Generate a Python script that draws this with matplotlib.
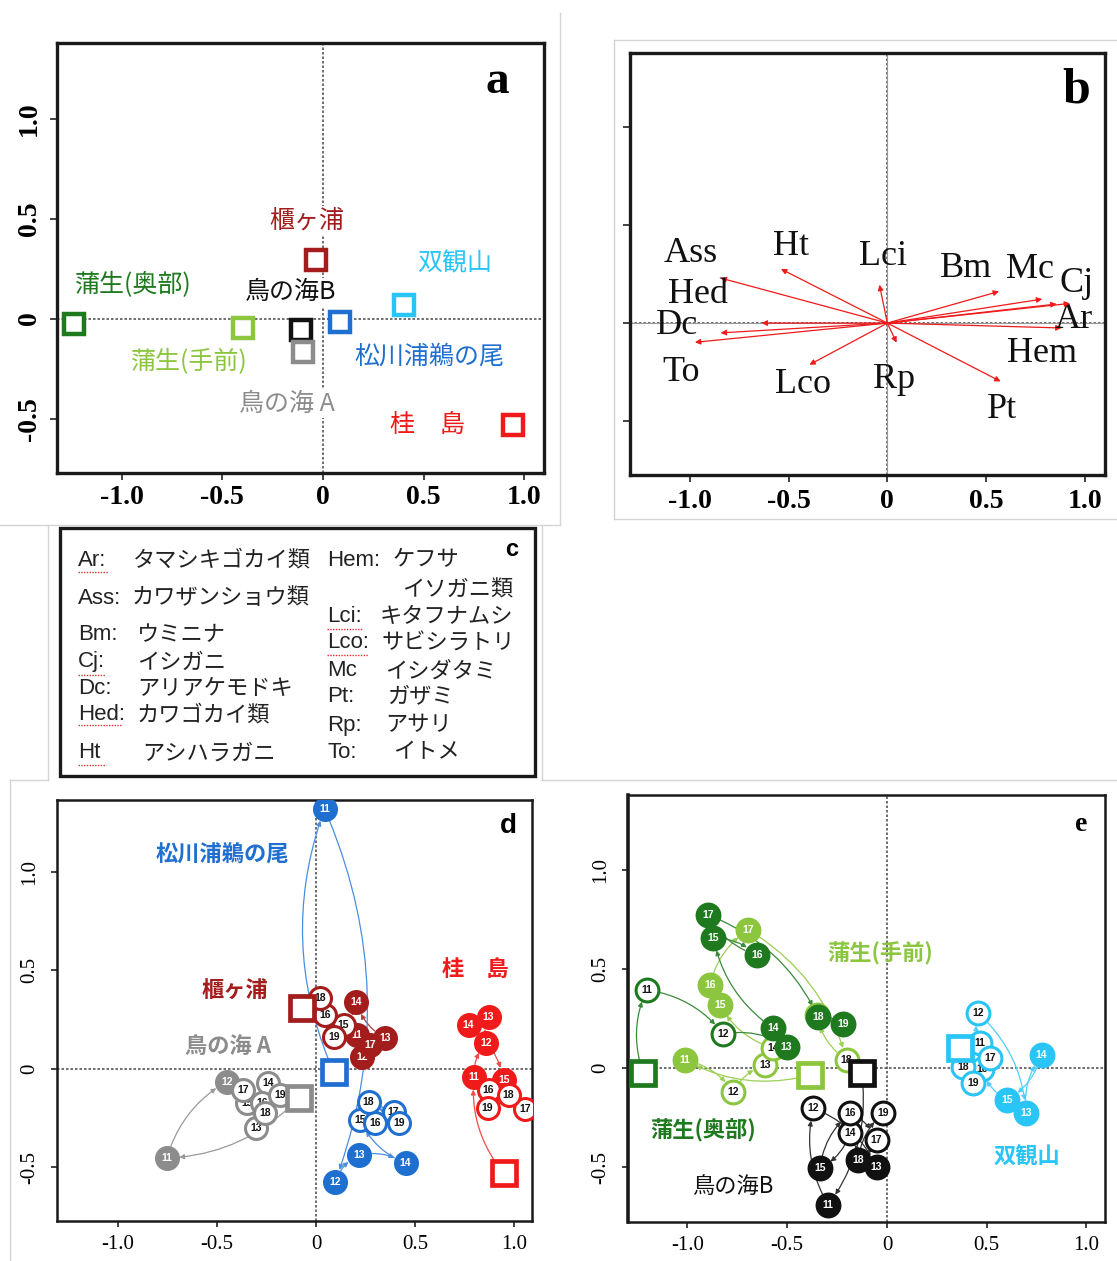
import matplotlib.pyplot as plt
from matplotlib.patches import Rectangle

# ---------------- data ----------------
# panel a: site scores
site_names = ['蒲生(奥部)', '蒲生(手前)', '鳥の海B', '鳥の海 A', '櫃ヶ浦', '松川浦鵜の尾', '双観山', '桂　島']
site_colors = ['#1f7a1f', '#8cc63f', '#111111', '#8c8c8c', '#a31d1d', '#1f6fd0', '#29c5f6', '#f01a1a']
site_x = [-1.236, -0.398, -0.107, -0.098, -0.036, 0.086, 0.402, 0.946]
site_y = [-0.028, -0.045, -0.055, -0.167, 0.292, -0.017, 0.067, -0.533]
site_lab_x = [-0.946, -0.670, -0.161, -0.179, -0.080, 0.527, 0.652, 0.518]
site_lab_y = [0.167, -0.217, 0.133, -0.425, 0.492, -0.192, 0.275, -0.533]

# panel b: species vectors
species = ['Ar', 'Ass', 'Bm', 'Cj', 'Dc', 'Hed', 'Hem', 'Ht', 'Lci', 'Lco', 'Mc', 'Pt', 'Rp', 'To']
sp_x = [0.883, -0.845, 0.566, 0.926, -0.637, -0.845, 0.858, -0.539, -0.040, -0.395, 0.785, 0.574, 0.047, -0.975]
sp_y = [-0.025, 0.229, 0.161, 0.100, 0.0, -0.050, 0.097, 0.275, 0.195, -0.212, 0.122, -0.297, -0.100, -0.098]
sp_lab_x = [0.943, -0.997, 0.400, 0.960, -1.064, -0.958, 0.782, -0.490, -0.020, -0.426, 0.723, 0.580, 0.034, -1.046]
sp_lab_y = [0.017, 0.356, 0.280, 0.200, -0.010, 0.146, -0.153, 0.390, 0.340, -0.314, 0.270, -0.440, -0.288, -0.254]

# panel c: species key
key_left_abbr = ['Ar:', 'Ass:', 'Bm:', 'Cj:', 'Dc:', 'Hed:', 'Ht']
key_left_name = ['タマシキゴカイ類', 'カワザンショウ類', 'ウミニナ', 'イシガニ', 'アリアケモドキ', 'カワゴカイ類', 'アシハラガニ']
key_right_abbr = ['Hem:', '', 'Lci:', 'Lco:', 'Mc', 'Pt:', 'Rp:', 'To:']
key_right_name = ['ケフサ', 'イソガニ類', 'キタフナムシ', 'サビシラトリ', 'イシダタミ', 'ガザミ', 'アサリ', 'イトメ']

# panels d, e: yearly trajectories (start square = before, circles = 2011..2019)
years = ['11', '12', '13', '14', '15', '16', '17', '18', '19']

matsu_start = (0.088, -0.014)
matsu_x = [0.042, 0.096, 0.215, 0.451, 0.222, 0.298, 0.391, 0.264, 0.416]
matsu_y = [1.320, -0.572, -0.437, -0.479, -0.259, -0.276, -0.217, -0.166, -0.276]
matsu_fill = [1, 1, 1, 1, 0, 0, 0, 0, 0]

hitsu_start = (-0.072, 0.308)
hitsu_x = [0.205, 0.231, 0.348, 0.202, 0.138, 0.045, 0.273, 0.020, 0.091]
hitsu_y = [0.173, 0.063, 0.156, 0.338, 0.223, 0.274, 0.122, 0.359, 0.164]
hitsu_fill = [1, 1, 1, 1, 0, 0, 1, 0, 0]

katsura_start = (0.946, -0.530)
katsura_x = [0.795, 0.859, 0.870, 0.769, 0.946, 0.870, 1.056, 0.971, 0.865]
katsura_y = [-0.042, 0.134, 0.261, 0.223, -0.056, -0.107, -0.205, -0.132, -0.200]
katsura_fill = [1, 1, 1, 1, 1, 0, 0, 0, 0]

toriA_start = (-0.089, -0.149)
toriA_x = [-0.754, -0.451, -0.303, -0.241, -0.350, -0.274, -0.367, -0.258, -0.182]
toriA_y = [-0.453, -0.064, -0.301, -0.073, -0.174, -0.174, -0.107, -0.225, -0.132]
toriA_fill = [1, 1, 0, 0, 0, 0, 0, 0, 0]

gamoOku_start = (-1.221, -0.025)
gamoOku_x = [-1.205, -0.820, -0.503, -0.570, -0.870, -0.653, -0.896, -0.344, -0.219]
gamoOku_y = [0.396, 0.173, 0.109, 0.202, 0.657, 0.572, 0.774, 0.258, 0.224]
gamoOku_fill = [0, 0, 1, 1, 1, 1, 1, 1, 1]

gamoMae_start = (-0.386, -0.034)
gamoMae_x = [-1.013, -0.770, -0.612, -0.570, -0.837, -0.887, -0.695, -0.202, -0.353]
gamoMae_y = [0.042, -0.118, 0.017, 0.101, 0.320, 0.421, 0.699, 0.042, 0.269]
gamoMae_fill = [1, 0, 0, 0, 1, 1, 1, 0, 1]

toriB_start = (-0.127, -0.025)
toriB_x = [-0.294, -0.369, -0.052, -0.185, -0.336, -0.185, -0.052, -0.144, -0.018]
toriB_y = [-0.690, -0.202, -0.497, -0.328, -0.505, -0.227, -0.362, -0.463, -0.227]
toriB_fill = [1, 0, 1, 0, 1, 0, 0, 1, 0]

soukan_start = (0.366, 0.101)
soukan_x = [0.466, 0.458, 0.697, 0.775, 0.603, 0.475, 0.516, 0.383, 0.433]
soukan_y = [0.126, 0.278, -0.224, 0.067, -0.160, -0.005, 0.050, 0.008, -0.076]
soukan_fill = [0, 0, 1, 1, 1, 0, 0, 0, 0]

tick_vals_x = [-1.0, -0.5, 0, 0.5, 1.0]
tick_text_x = ['-1.0', '-0.5', '0', '0.5', '1.0']
tick_vals_y = [-0.5, 0, 0.5, 1.0]
tick_text_y = ['-0.5', '0', '0.5', '1.0']

# ---------------- figure ----------------
W, H = 1117, 1261
fig = plt.figure(figsize=(W / 100, H / 100), dpi=100)
JP = ['Noto Sans CJK JP', 'DejaVu Sans']
SERIF = ['Liberation Serif', 'DejaVu Serif']
SANS = ['Liberation Sans', 'DejaVu Sans']


def add_ax(l, t, r, b):
    return fig.add_axes([l / W, 1 - b / H, (r - l) / W, (b - t) / H])


def style_axes(ax, lw, fs, weight, pad_x, pad_y, labels=True, tlen=5):
    for s in ax.spines.values():
        s.set_linewidth(lw)
        s.set_color('#1a1a1a')
    ax.set_xticks(tick_vals_x)
    ax.set_yticks(tick_vals_y)
    ax.set_xticklabels(tick_text_x, fontfamily=SERIF, fontsize=fs, fontweight=weight)
    if labels:
        ax.set_yticklabels(tick_text_y, fontfamily=SERIF, fontsize=fs, fontweight=weight,
                           rotation=90, va='center')
    else:
        ax.set_yticklabels([])
    ax.tick_params(axis='x', length=tlen, width=1.3, pad=pad_x, color='#333333')
    ax.tick_params(axis='y', length=tlen, width=1.3, pad=pad_y, color='#333333')
    ax.axhline(0, color='#555555', lw=1.2, ls=(0, (1.5, 1.2)), zorder=0)
    ax.axvline(0, color='#555555', lw=1.2, ls=(0, (1.5, 1.2)), zorder=0)


# overlay for image borders and panel c
bg = fig.add_axes([0, 0, 1, 1], zorder=-1)
bg.set_xlim(0, W)
bg.set_ylim(H, 0)
bg.axis('off')
border_segments = [((560, 560), (13, 525)), ((0, 560), (525, 525)),
                   ((614, 1117), (40, 40)), ((614, 614), (40, 519)), ((614, 1117), (519, 519)),
                   ((48, 48), (525, 780)), ((542, 542), (525, 780)),
                   ((10, 48), (780, 780)), ((542, 1117), (780, 780)), ((10, 10), (780, 1261))]
for xs, ys in border_segments:
    bg.plot(xs, ys, color='#d4d4d4', lw=1)

# ---------- panel a ----------
ax_a = add_ax(57, 43, 544, 473)
ax_a.set_xlim(-1.321, 1.098)
ax_a.set_ylim(-0.772, 1.378)
style_axes(ax_a, 2.4, 20, 'bold', 4, 6)
for x, y, lx, ly, name, c in zip(site_x, site_y, site_lab_x, site_lab_y, site_names, site_colors):
    ax_a.plot(x, y, 's', ms=15, mfc='white', mec=c, mew=3.2, zorder=5)
    ax_a.text(lx, ly, name, color=c, fontsize=18, family=JP, ha='center', va='center', zorder=3,
              bbox=dict(fc='white', ec='none', pad=1))
ax_a.text(0.905, 0.91, 'a', transform=ax_a.transAxes, fontsize=34, fontweight='bold',
          family=SERIF, ha='center', va='center')

# ---------- panel b ----------
ax_b = add_ax(630, 53, 1105, 475)
ax_b.set_xlim(-1.304, 1.103)
ax_b.set_ylim(-0.773, 1.374)
style_axes(ax_b, 2.4, 20, 'bold', 5, 6, labels=False)
ax_b.axhline(0, color='#999999', lw=0.8, zorder=0)
ax_b.axvline(0, color='#999999', lw=0.8, zorder=0)
for x, y, lx, ly, sp in zip(sp_x, sp_y, sp_lab_x, sp_lab_y, species):
    ax_b.annotate('', xy=(x, y), xytext=(0, 0),
                  arrowprops=dict(arrowstyle='-|>', color='#f01a1a', lw=0.9, mutation_scale=8,
                                  shrinkA=0, shrinkB=0))
    ax_b.text(lx, ly, sp, fontsize=26, family=SERIF, ha='center', va='center', color='#111111')
ax_b.text(0.939, 0.91, 'b', transform=ax_b.transAxes, fontsize=36, fontweight='bold',
          family=SERIF, ha='center', va='center')

# ---------- panel c ----------
bg.add_patch(Rectangle((60, 528), 475, 248, fill=False, ec='#1a1a1a', lw=2.4))
left_y = [560, 598, 635, 662, 688, 715, 753]
left_name_x = [133, 132, 137, 137, 137, 137, 142]
for ab, nm, y, nx in zip(key_left_abbr, key_left_name, left_y, left_name_x):
    bg.text(78, y, ab, fontsize=16, family=SANS, va='center', ha='left', color='#222222')
    bg.text(nx, y, nm, fontsize=16, family=JP, va='center', ha='left', color='#222222')
right_y = [560, 590, 617, 643, 671, 697, 725, 752]
right_name_x = [392, 402, 380, 382, 385, 387, 385, 393]
for ab, nm, y, nx in zip(key_right_abbr, key_right_name, right_y, right_name_x):
    bg.text(327, y, ab, fontsize=16, family=SANS, va='center', ha='left', color='#222222')
    bg.text(nx, y, nm, fontsize=16, family=JP, va='center', ha='left', color='#222222')
underline_segments = [((78, 108), 572), ((78, 105), 675), ((78, 122), 725), ((78, 106), 765),
                      ((327, 363), 629), ((327, 368), 655)]
for xs, y in underline_segments:
    bg.plot(xs, (y, y), color='#e03030', lw=1, ls=(0, (1, 1)))
bg.text(512, 550, 'c', fontsize=17, fontweight='bold', family=SANS, ha='center', va='center')


# ---------- trajectories ----------
def trajectory(ax, start, xs, ys, filled, color, lcolor, s, fs, base_z):
    px = [start[0]] + xs
    py = [start[1]] + ys
    for i in range(len(px) - 1):
        ax.annotate('', xy=(px[i + 1], py[i + 1]), xytext=(px[i], py[i]),
                    arrowprops=dict(arrowstyle='-|>', color=lcolor, lw=0.9, mutation_scale=7,
                                    shrinkA=9, shrinkB=9, connectionstyle='arc3,rad=-0.2'),
                    zorder=2)
    ax.plot(start[0], start[1], 's', ms=17, mfc='white', mec=color, mew=3.4, zorder=base_z + 1)
    for i, (x, y, yr, f) in enumerate(zip(xs, ys, years, filled)):
        z = base_z + i * 0.02
        ax.scatter([x], [y], s=s, facecolor=color if f else 'white', edgecolor=color, lw=2.2, zorder=z)
        ax.text(x, y, yr, ha='center', va='center', fontsize=fs, family=SANS, fontweight='bold',
                color='white' if f else '#111111', zorder=z + 0.01)


# ---------- panel d ----------
ax_d = add_ax(57, 800, 532, 1221)
ax_d.set_xlim(-1.308, 1.089)
ax_d.set_ylim(-0.772, 1.365)
style_axes(ax_d, 1.8, 15, 'normal', 6, 9, tlen=4)
trajectory(ax_d, toriA_start, toriA_x, toriA_y, toriA_fill, '#8c8c8c', '#9a9a9a', 250, 7.5, 3)
trajectory(ax_d, hitsu_start, hitsu_x, hitsu_y, hitsu_fill, '#a31d1d', '#b04040', 250, 7.5, 4)
trajectory(ax_d, matsu_start, matsu_x, matsu_y, matsu_fill, '#1f6fd0', '#4a8ee0', 250, 7.5, 5)
trajectory(ax_d, katsura_start, katsura_x, katsura_y, katsura_fill, '#f01a1a', '#f04a4a', 250, 7.5, 6)
ax_d.text(-0.476, 1.086, '松川浦鵜の尾', color='#1f6fd0', fontsize=16, fontweight='bold', family=JP,
          ha='center', va='center')
ax_d.text(-0.409, 0.393, '櫃ヶ浦', color='#a31d1d', fontsize=16, fontweight='bold', family=JP,
          ha='center', va='center')
ax_d.text(-0.443, 0.113, '鳥の海 A', color='#8c8c8c', fontsize=16, fontweight='bold', family=JP,
          ha='center', va='center')
ax_d.text(0.803, 0.503, '桂　島', color='#f01a1a', fontsize=16, fontweight='bold', family=JP,
          ha='center', va='center')
ax_d.text(0.951, 0.938, 'd', transform=ax_d.transAxes, fontsize=20, fontweight='bold',
          family=SANS, ha='center', va='center')

# ---------- panel e ----------
ax_e = add_ax(628, 795, 1105, 1222)
ax_e.set_xlim(-1.298, 1.093)
ax_e.set_ylim(-0.776, 1.380)
style_axes(ax_e, 1.8, 15, 'normal', 6, 9, tlen=4)
ax_e.spines['left'].set_linewidth(2.6)
trajectory(ax_e, gamoMae_start, gamoMae_x, gamoMae_y, gamoMae_fill, '#8cc63f', '#9ccf55', 270, 7.5, 3)
trajectory(ax_e, gamoOku_start, gamoOku_x, gamoOku_y, gamoOku_fill, '#1f7a1f', '#3a8a3a', 270, 7.5, 4)
trajectory(ax_e, toriB_start, toriB_x, toriB_y, toriB_fill, '#111111', '#333333', 270, 7.5, 5)
trajectory(ax_e, soukan_start, soukan_x, soukan_y, soukan_fill, '#29c5f6', '#4fd0f8', 270, 7.5, 6)
ax_e.text(-0.035, 0.58, '蒲生(手前)', color='#8cc63f', fontsize=16, fontweight='bold', family=JP,
          ha='center', va='center')
ax_e.text(-0.922, -0.313, '蒲生(奥部)', color='#1f7a1f', fontsize=16, fontweight='bold', family=JP,
          ha='center', va='center')
ax_e.text(-0.772, -0.596, '鳥の海B', color='#111111', fontsize=16, family=JP,
          ha='center', va='center')
ax_e.text(0.702, -0.447, '双観山', color='#29c5f6', fontsize=16, fontweight='bold', family=JP,
          ha='center', va='center')
ax_e.text(0.95, 0.932, 'e', transform=ax_e.transAxes, fontsize=20, fontweight='bold',
          family=SERIF, ha='center', va='center')

fig.savefig('out.png', dpi=100)
